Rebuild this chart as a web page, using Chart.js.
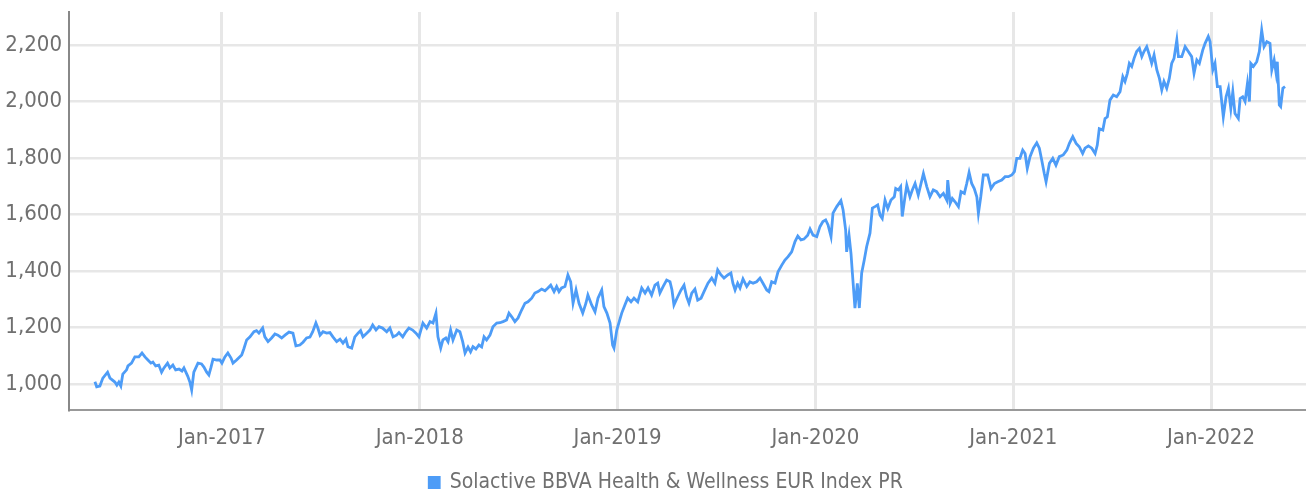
<!DOCTYPE html>
<html>
<head>
<meta charset="utf-8">
<script src="https://cdn.jsdelivr.net/npm/chart.js@4.4.1/dist/chart.umd.min.js"></script>
<style>
  html, body { margin: 0; padding: 0; background: #fff; }
  #wrap { width: 1306px; height: 493px; }
</style>
</head>
<body>
<div id="wrap"><canvas id="chart" width="1306" height="493"></canvas></div>
<script>
'use strict';

var seriesName = 'Solactive BBVA Health & Wellness EUR Index PR';

// dates as decimal years
var dates = [
  2016.358, 2016.367, 2016.383, 2016.398, 2016.422, 2016.434, 2016.459, 2016.469, 2016.479, 2016.489,
  2016.499, 2016.518, 2016.525, 2016.543, 2016.560, 2016.580, 2016.596, 2016.611, 2016.626, 2016.641,
  2016.651, 2016.665, 2016.681, 2016.695, 2016.707, 2016.725, 2016.737, 2016.752, 2016.766, 2016.783,
  2016.798, 2016.808, 2016.827, 2016.838, 2016.847, 2016.858, 2016.879, 2016.897, 2016.909, 2016.923,
  2016.934, 2016.944, 2016.955, 2016.973, 2016.990, 2017.000, 2017.015, 2017.030, 2017.046, 2017.056,
  2017.074, 2017.100, 2017.111,
  2017.125, 2017.142, 2017.162, 2017.175, 2017.187, 2017.206, 2017.217, 2017.233, 2017.251, 2017.268,
  2017.283, 2017.302, 2017.319, 2017.339, 2017.359, 2017.374, 2017.394, 2017.410, 2017.428, 2017.445,
  2017.459, 2017.475, 2017.485, 2017.496, 2017.511, 2017.529, 2017.546, 2017.561, 2017.580, 2017.597,
  2017.612, 2017.627, 2017.637, 2017.656, 2017.672, 2017.688, 2017.701, 2017.713, 2017.732, 2017.748,
  2017.762, 2017.779, 2017.794, 2017.812, 2017.833, 2017.849, 2017.865, 2017.883, 2017.895, 2017.914,
  2017.930, 2017.945, 2017.964, 2017.981, 2017.996,
  2018.016, 2018.035, 2018.052, 2018.067, 2018.082, 2018.092, 2018.106, 2018.117, 2018.132, 2018.143,
  2018.156, 2018.168, 2018.187, 2018.203, 2018.217, 2018.229, 2018.244, 2018.257, 2018.269, 2018.284,
  2018.299, 2018.313, 2018.325, 2018.338, 2018.355, 2018.370, 2018.389, 2018.406, 2018.421, 2018.439,
  2018.451, 2018.465, 2018.481, 2018.497, 2018.515, 2018.532, 2018.547, 2018.566, 2018.582, 2018.598,
  2018.616, 2018.633, 2018.648, 2018.662, 2018.679, 2018.692, 2018.704, 2018.717, 2018.734, 2018.749,
  2018.763, 2018.775, 2018.790, 2018.805, 2018.824, 2018.840, 2018.850, 2018.869, 2018.886, 2018.901,
  2018.920, 2018.931, 2018.946, 2018.962, 2018.975, 2018.982, 2018.996,
  2019.021, 2019.037, 2019.051, 2019.068, 2019.083, 2019.102, 2019.122, 2019.139, 2019.154, 2019.172,
  2019.189, 2019.203, 2019.214, 2019.230, 2019.248, 2019.265, 2019.275, 2019.285, 2019.304, 2019.321,
  2019.336, 2019.349, 2019.361, 2019.375, 2019.391, 2019.405, 2019.422, 2019.437, 2019.457, 2019.476,
  2019.492, 2019.506, 2019.523, 2019.538, 2019.557, 2019.573, 2019.583, 2019.594, 2019.607, 2019.619,
  2019.634, 2019.653, 2019.669, 2019.685, 2019.703, 2019.720, 2019.735, 2019.754, 2019.765, 2019.779,
  2019.796, 2019.811, 2019.830, 2019.846, 2019.862, 2019.880, 2019.897, 2019.911, 2019.927, 2019.942,
  2019.961, 2019.973, 2019.988, 2020.007, 2020.023, 2020.038,
  2020.052, 2020.064, 2020.079, 2020.089, 2020.108, 2020.129, 2020.140, 2020.153, 2020.158, 2020.170,
  2020.180, 2020.187, 2020.200, 2020.212, 2020.222, 2020.234, 2020.247, 2020.259, 2020.276, 2020.288,
  2020.301, 2020.315, 2020.327, 2020.338, 2020.352, 2020.366, 2020.382, 2020.399, 2020.406, 2020.419,
  2020.431, 2020.439, 2020.453, 2020.462, 2020.478, 2020.490, 2020.504, 2020.520, 2020.534, 2020.546,
  2020.563, 2020.579, 2020.596, 2020.613, 2020.630, 2020.647, 2020.664, 2020.669, 2020.681, 2020.692,
  2020.706, 2020.723, 2020.736, 2020.753, 2020.765, 2020.777, 2020.790, 2020.803, 2020.816, 2020.824,
  2020.836, 2020.849, 2020.871, 2020.888, 2020.905, 2020.922, 2020.942, 2020.959, 2020.975, 2020.993,
  2021.006, 2021.018, 2021.034, 2021.048, 2021.060, 2021.071, 2021.085, 2021.102, 2021.119, 2021.132,
  2021.144, 2021.157, 2021.166, 2021.183, 2021.200, 2021.216, 2021.233, 2021.253, 2021.271, 2021.284,
  2021.301, 2021.318, 2021.334, 2021.351, 2021.363, 2021.380, 2021.397, 2021.414, 2021.425, 2021.435,
  2021.453, 2021.464, 2021.476, 2021.489, 2021.506, 2021.523, 2021.540, 2021.554, 2021.565, 2021.577,
  2021.587, 2021.599, 2021.611, 2021.624, 2021.638, 2021.650, 2021.661, 2021.675, 2021.688, 2021.700,
  2021.712, 2021.726, 2021.739, 2021.751, 2021.762, 2021.776, 2021.789, 2021.801, 2021.813, 2021.827,
  2021.835, 2021.852, 2021.869, 2021.885, 2021.902, 2021.914, 2021.928, 2021.941, 2021.958, 2021.970,
  2021.986, 2021.995,
  2022.009, 2022.020, 2022.032, 2022.046, 2022.062, 2022.076, 2022.088, 2022.100, 2022.110, 2022.121,
  2022.138, 2022.147, 2022.160, 2022.172, 2022.184, 2022.194, 2022.201, 2022.214, 2022.231, 2022.244,
  2022.256, 2022.268, 2022.282, 2022.298, 2022.307, 2022.319, 2022.329, 2022.335, 2022.345, 2022.352,
  2022.363, 2022.374
];

var values = [
  1008, 990, 993, 1021, 1042, 1021, 1007, 996, 1007, 993,
  1035, 1050, 1064, 1074, 1096, 1096, 1110, 1096, 1085, 1074,
  1078, 1064, 1067, 1042, 1057, 1074, 1057, 1067, 1050, 1053,
  1046, 1057, 1028, 1007, 979, 1042, 1074, 1071, 1060, 1042,
  1032, 1057, 1088, 1085, 1085, 1074, 1096, 1110, 1092, 1074,
  1085, 1103, 1125,
  1156, 1167, 1185, 1189, 1180, 1198, 1167, 1150, 1163, 1177,
  1173, 1163, 1173, 1184, 1180, 1135, 1138, 1148, 1163, 1166,
  1185, 1216, 1198, 1173, 1185, 1180, 1182, 1167, 1150, 1159,
  1145, 1159, 1132, 1127, 1167, 1180, 1189, 1167, 1180, 1191,
  1209, 1191, 1203, 1198, 1185, 1198, 1167, 1173, 1182, 1167,
  1185, 1198, 1191, 1180, 1167,
  1216, 1198, 1221, 1216, 1251, 1167, 1127, 1156, 1163, 1150,
  1191, 1156, 1191, 1185, 1150, 1110, 1131, 1114, 1132, 1124,
  1138, 1131, 1167, 1156, 1173, 1203, 1216, 1217, 1221, 1227,
  1251, 1238, 1221, 1234, 1262, 1286, 1291, 1304, 1322, 1327,
  1336, 1330, 1340, 1350, 1327, 1345, 1327, 1340, 1345, 1386,
  1362, 1286, 1333, 1286, 1251, 1286, 1315, 1280, 1256, 1304,
  1333, 1274, 1251, 1216, 1138, 1127, 1191,
  1251, 1280, 1304, 1291, 1304, 1291, 1340, 1322, 1340, 1315,
  1350, 1357, 1322, 1345, 1368, 1362, 1333, 1280, 1309, 1333,
  1350, 1309, 1286, 1322, 1336, 1297, 1304, 1327, 1357, 1375,
  1357, 1404, 1386, 1375, 1386, 1393, 1357, 1333, 1357, 1340,
  1372, 1345, 1362, 1357, 1362, 1375, 1357, 1333, 1327, 1362,
  1357, 1397, 1421, 1439, 1451, 1468, 1504, 1524, 1510, 1513,
  1527, 1549, 1527, 1522, 1557, 1575,
  1581, 1563, 1522, 1605, 1628, 1649, 1616, 1545, 1468, 1527,
  1462, 1393, 1269, 1356, 1269, 1393, 1439, 1486, 1534, 1623,
  1628, 1634, 1598, 1586, 1651, 1621, 1651, 1663, 1692, 1687,
  1699, 1593, 1663, 1704, 1663, 1687, 1710, 1669, 1710, 1745,
  1699, 1663, 1687, 1681, 1663, 1675, 1651, 1722, 1639, 1657,
  1645, 1628, 1681, 1675, 1710, 1749, 1710, 1692, 1663, 1604,
  1663, 1740, 1740, 1692, 1710, 1716, 1722, 1734, 1734, 1740,
  1752, 1799, 1799, 1828, 1816, 1763, 1805, 1835, 1854, 1835,
  1793, 1745, 1716, 1781, 1799, 1775, 1805, 1811, 1828, 1852,
  1876, 1852, 1840, 1816, 1835, 1843, 1835, 1816, 1846, 1904,
  1899, 1940, 1946, 2005, 2023, 2017, 2035, 2088, 2071, 2100,
  2135, 2124, 2153, 2177, 2188, 2159, 2177, 2194, 2165, 2135,
  2165, 2112, 2082, 2041, 2071, 2047, 2082, 2135, 2153, 2218,
  2159, 2159, 2194, 2177, 2159, 2100, 2147, 2135, 2182, 2206,
  2230, 2212,
  2112, 2135, 2053, 2053, 1946, 2017, 2047, 1975, 2035, 1958,
  1940, 2011, 2017, 2000, 2064, 2000, 2135, 2124, 2141, 2177,
  2253, 2194, 2212, 2206, 2112, 2147, 2100, 2141, 1988, 1982,
  2047, 2053
];

var tickYears = [2017, 2018, 2019, 2020, 2021, 2022];
var tickLabels = ['Jan-2017', 'Jan-2018', 'Jan-2019', 'Jan-2020', 'Jan-2021', 'Jan-2022'];
var yTicks = [1000, 1200, 1400, 1600, 1800, 2000, 2200];

var fontFamily = '"DejaVu Sans Condensed", "DejaVu Sans", sans-serif';
var textColor = '#707070';
var gridColor = '#e7e7e7';

var points = dates.map(function (d, i) {
    return { x: d, y: values[i] };
});

// nudge the legend down and right (built-in legend sits a bit off)
var legendShift = {
    id: 'legendShift',
    afterLayout: function (chart) {
        var l = chart.legend;
        if (l) {
            l.top += 10;
            l.bottom += 10;
            l.left += 13;
            l.right += 13;
        }
    }
};

new Chart(document.getElementById('chart'), {
    type: 'line',
    data: {
        datasets: [{
            label: seriesName,
            data: points,
            borderColor: '#4d9cf7',
            backgroundColor: '#4d9cf7',
            borderWidth: 2.8,
            pointRadius: 0,
            tension: 0,
            fill: false
        }]
    },
    options: {
        responsive: false,
        animation: false,
        devicePixelRatio: 1,
        layout: {
            padding: { top: 12, left: 0, right: 0, bottom: 0 }
        },
        plugins: {
            legend: {
                position: 'bottom',
                labels: {
                    boxWidth: 10,
                    boxHeight: 10,
                    padding: 10,
                    color: textColor,
                    font: { family: fontFamily, size: 21 }
                }
            },
            tooltip: { enabled: false }
        },
        scales: {
            x: {
                type: 'linear',
                min: 2016.227,
                max: 2022.48,
                afterBuildTicks: function (scale) {
                    scale.ticks = tickYears.map(function (v) { return { value: v }; });
                },
                afterFit: function (scale) {
                    scale.height = 42;
                    scale.paddingLeft = 0;
                    scale.paddingRight = 0;
                },
                ticks: {
                    autoSkip: false,
                    maxRotation: 0,
                    padding: 15,
                    color: textColor,
                    font: { family: fontFamily, size: 22 },
                    callback: function (value, index) {
                        return tickLabels[index];
                    }
                },
                grid: { color: gridColor, lineWidth: 3, drawTicks: false },
                border: { color: '#999', width: 2 }
            },
            y: {
                min: 908,
                max: 2317,
                afterBuildTicks: function (scale) {
                    scale.ticks = yTicks.map(function (v) { return { value: v }; });
                },
                afterFit: function (scale) {
                    scale.width = 69;
                    scale.paddingTop = 0;
                    scale.paddingBottom = 0;
                },
                ticks: {
                    padding: 7,
                    color: textColor,
                    font: { family: fontFamily, size: 22 },
                    callback: function (value) {
                        return value.toLocaleString('en-US');
                    }
                },
                grid: { color: gridColor, lineWidth: 2.5, drawTicks: false },
                border: { color: '#888', width: 2 }
            }
        }
    },
    plugins: [legendShift]
});
</script>
</body>
</html>
